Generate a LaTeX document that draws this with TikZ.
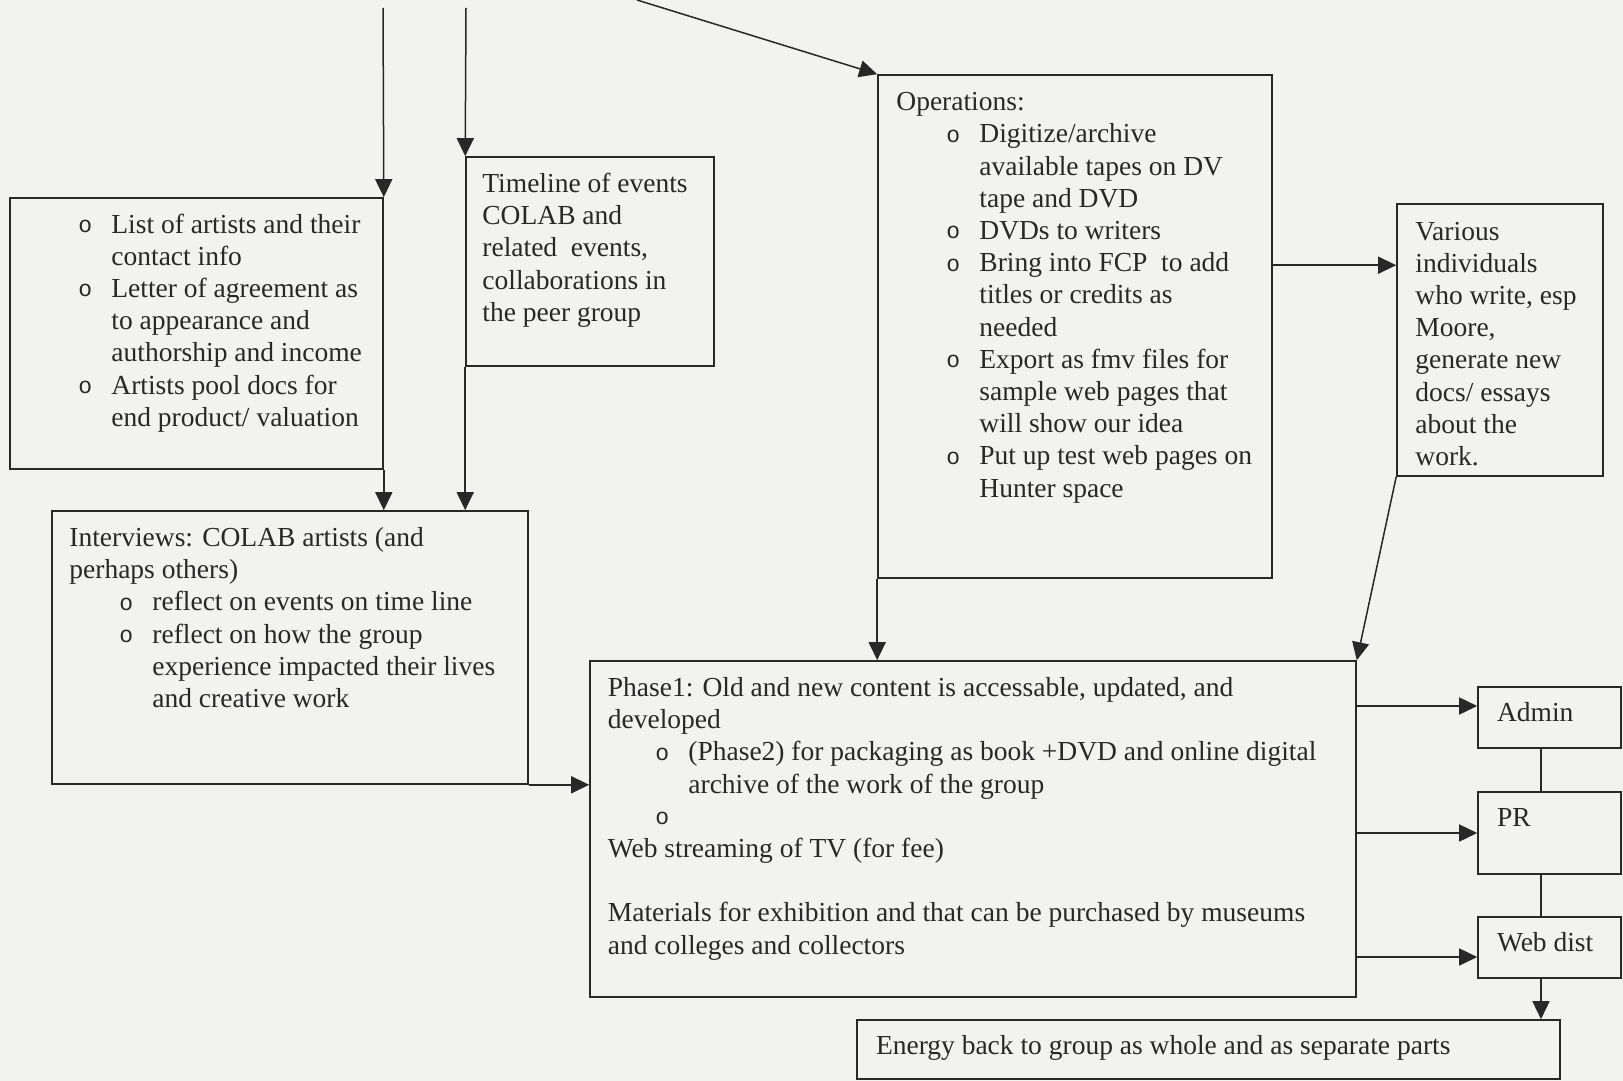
\documentclass[tikz,border=0pt]{standalone}
\usepackage{fontspec}
\setmainfont{Liberation Serif}
\newfontfamily\bulfont{Liberation Mono}
\usetikzlibrary{arrows.meta,fit,calc}
\definecolor{paper}{RGB}{242,242,241}
\definecolor{ink}{RGB}{40,40,40}
\newcommand\bl{\makebox[16.5pt][l]{\raisebox{0.3pt}{\bulfont\fontsize{11.5pt}{12pt}\selectfont o}}}
\newcommand\ind{\hspace*{16.5pt}}
\newcommand\subi{\hspace*{25pt}}
\tikzset{
 box/.style={draw=ink, line width=0.8pt, inner sep=0pt},
 txt/.style={anchor=base west, inner sep=0pt, align=left, text=ink, font=\fontsize{13.75pt}{16.1pt}\selectfont},
 arr/.style={draw=ink, line width=0.75pt, -{Triangle[length=9pt,width=8.5pt]}},
 ln/.style={draw=ink, line width=0.75pt},
}
\begin{document}
\begin{tikzpicture}[x=0.5pt,y=-0.5pt]
\fill[paper] (0,0) rectangle (1623,1081);
\useasboundingbox (0,0) rectangle (1623,1081);

% boxes
\node[box, fit={(10,198) (383,469)}] (artists) {};
\node[box, fit={(466,157) (714,366)}] (timeline) {};
\node[box, fit={(52,511) (528,784)}] (interviews) {};
\node[box, fit={(878,75) (1272,578)}] (ops) {};
\node[box, fit={(1397,204) (1603,476)}] (various) {};
\node[box, fit={(590,661) (1356,997)}] (phase) {};
\node[box, fit={(1478,687) (1621,748)}] (admin) {};
\node[box, fit={(1478,792) (1621,874)}] (pr) {};
\node[box, fit={(1478,917) (1621,978)}] (web) {};
\node[box, fit={(857,1020) (1560,1079)}] (energy) {};

% texts (anchor at the baseline of the last line)
\node[txt] (tartists) at (78,426.2) {\bl List of artists and their\\
\ind contact info\\
\bl Letter of agreement as\\
\ind to appearance and\\
\ind authorship and income\\
\bl Artists pool docs for\\
\ind end product/ valuation};

\node[txt] (ttimeline) at (482,321.3) {Timeline of events\\
COLAB and\\
related\ \ events,\\
collaborations in\\
the peer group};

\node[txt] (tinterviews) at (69,707.5) {Interviews: COLAB artists (and\\
perhaps others)\\
\subi\bl reflect on events on time line\\
\subi\bl reflect on how the group\\
\subi\ind experience impacted their lives\\
\subi\ind and creative work};

\node[txt] (tops) at (896,497.1) {Operations:\\
\subi\bl Digitize/archive\\
\subi\ind available tapes on DV\\
\subi\ind tape and DVD\\
\subi\bl DVDs to writers\\
\subi\bl Bring into FCP\ \ to add\\
\subi\ind titles or credits as\\
\subi\ind needed\\
\subi\bl Export as fmv files for\\
\subi\ind sample web pages that\\
\subi\ind will show our idea\\
\subi\bl Put up test web pages on\\
\subi\ind Hunter space};

\node[txt] (tvarious) at (1415,465.4) {Various\\
individuals\\
who write, esp\\
Moore,\\
generate new\\
docs/ essays\\
about the\\
work.};

\node[txt] (tphase) at (607.5,954.1) {Phase1: Old and new content is accessable, updated, and\\
developed\\
\hspace*{23.75pt}\bl (Phase2) for packaging as book +DVD and online digital\\
\hspace*{23.75pt}\ind archive of the work of the group\\
\hspace*{23.75pt}\bl\\
Web streaming of TV (for fee)\\
\mbox{}\\
Materials for exhibition and that can be purchased by museums\\
and colleges and collectors};

\node[txt] (tadmin) at (1496.6,721) {Admin};
\node[txt] (tpr) at (1496.6,826) {PR};
\node[txt] (tweb) at (1496.6,951) {Web dist};
\node[txt] (tenergy) at (875.6,1054.7) {Energy back to group as whole and as separate parts};

% connectors
\coordinate (s1) at (383,8);
\coordinate (s2) at (466,8);
\coordinate (s3) at (637,0);
\draw[arr] (s1) -- (artists.north east);
\draw[arr] (artists.south east) -- (artists.south east |- interviews.north);
\draw[arr] (s2) -- (timeline.north west);
\draw[arr] (timeline.south west) -- (timeline.south west |- interviews.north);
\draw[arr] (interviews.south east) -- (interviews.south east -| phase.west);
\draw[arr] (s3) -- (ops.north west);
\draw[arr] (ops.south west) -- (ops.south west |- phase.north);
\draw[arr] ([yshift=-95.5pt]ops.north east) coordinate (o1) -- (o1 -| various.west);
\draw[arr] (various.south west) -- (phase.north east);
\draw[arr] ([yshift=5.75pt]admin.west -| phase.east) -- ([yshift=5.75pt]admin.west);
\draw[arr] (pr.west -| phase.east) -- (pr.west);
\draw[arr] ([yshift=-4.75pt]web.west -| phase.east) -- ([yshift=-4.75pt]web.west);
\draw[ln] ([xshift=-4.25pt]admin.south) -- ([xshift=-4.25pt]pr.north);
\draw[ln] ([xshift=-4.25pt]pr.south) -- ([xshift=-4.25pt]web.north);
\draw[arr] ([xshift=-4.25pt]web.south) coordinate (w1) -- (w1 |- energy.north);
\end{tikzpicture}
\end{document}
